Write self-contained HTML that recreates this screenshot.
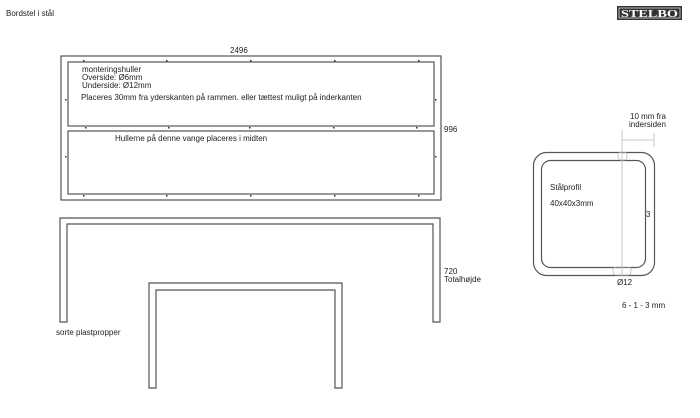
<!DOCTYPE html>
<html><head><meta charset="utf-8"><style>
body{margin:0;background:#fff;width:700px;height:418px;overflow:hidden;font-family:"Liberation Sans",sans-serif}
svg{position:absolute;left:0;top:0}
text{font-family:"Liberation Sans",sans-serif;font-size:8px;fill:#222}
</style></head><body>
<svg width="700" height="418" viewBox="0 0 700 418">
<g fill="none" stroke="#555" stroke-width="1.2">
<rect x="61" y="56" width="380" height="144"/>
<rect x="68" y="62" width="366" height="64"/>
<rect x="68" y="131" width="366" height="63"/>
<path d="M60 322V218H440V322H433V224H67V322Z"/>
<path d="M149 388V283H342V388H335V290H156V388Z"/>
<rect x="533.5" y="152.5" width="121" height="123" rx="13"/>
<rect x="541.5" y="160.5" width="104" height="107" rx="9"/>
</g>
<g fill="#333">
<rect x="83" y="60" width="1.5" height="1.5"/><rect x="166" y="60" width="1.5" height="1.5"/><rect x="250" y="60" width="1.5" height="1.5"/><rect x="334" y="60" width="1.5" height="1.5"/><rect x="418" y="60" width="1.5" height="1.5"/>
<rect x="85" y="127" width="1.5" height="1.5"/><rect x="168" y="127" width="1.5" height="1.5"/><rect x="249" y="127" width="1.5" height="1.5"/><rect x="333" y="127" width="1.5" height="1.5"/><rect x="416" y="127" width="1.5" height="1.5"/>
<rect x="83" y="195" width="1.5" height="1.5"/><rect x="166" y="195" width="1.5" height="1.5"/><rect x="250" y="195" width="1.5" height="1.5"/><rect x="334" y="195" width="1.5" height="1.5"/><rect x="418" y="195" width="1.5" height="1.5"/>
<rect x="65" y="99" width="1.5" height="1.5"/><rect x="435" y="99" width="1.5" height="1.5"/><rect x="65" y="156" width="1.5" height="1.5"/><rect x="435" y="156" width="1.5" height="1.5"/>
</g>
<g fill="none" stroke="#bbb" stroke-width="0.8">
<path d="M622 130V276M622 140H654M654 133V147"/>
<rect x="618" y="152" width="9" height="8" rx="3"/>
<rect x="613" y="267" width="18" height="8" rx="3"/>
</g>
<text x="6" y="16">Bordstel i stål</text>
<text x="230" y="53">2496</text>
<text x="82" y="72">monteringshuller</text>
<text x="82" y="80">Overside: Ø6mm</text>
<text x="82" y="88">Underside: Ø12mm</text>
<text x="81" y="100">Placeres 30mm fra yderskanten på rammen. eller tættest muligt på inderkanten</text>
<text x="115" y="141">Hullerne på denne vange placeres i midten</text>
<text x="444" y="132">996</text>
<text x="444" y="274">720</text>
<text x="444" y="282">Totalhøjde</text>
<text x="56" y="335">sorte plastpropper</text>
<text x="550" y="190">Stålprofil</text>
<text x="550" y="206">40x40x3mm</text>
<text x="646" y="217">3</text>
<text x="617" y="285">Ø12</text>
<text x="622" y="308">6 - 1 - 3 mm</text>
<text x="630" y="119">10 mm  fra</text>
<text x="629" y="127">indersiden</text>
<rect x="617" y="6" width="65" height="14" fill="#333"/>
<rect x="619" y="8" width="61" height="10" fill="none" stroke="#ddd" stroke-width="0.8"/>
<text x="621" y="17" textLength="57" lengthAdjust="spacingAndGlyphs" style="font-family:'Liberation Serif',serif;font-size:10px;font-weight:bold;fill:#fff">STELBO</text>
</svg>
</body></html>
